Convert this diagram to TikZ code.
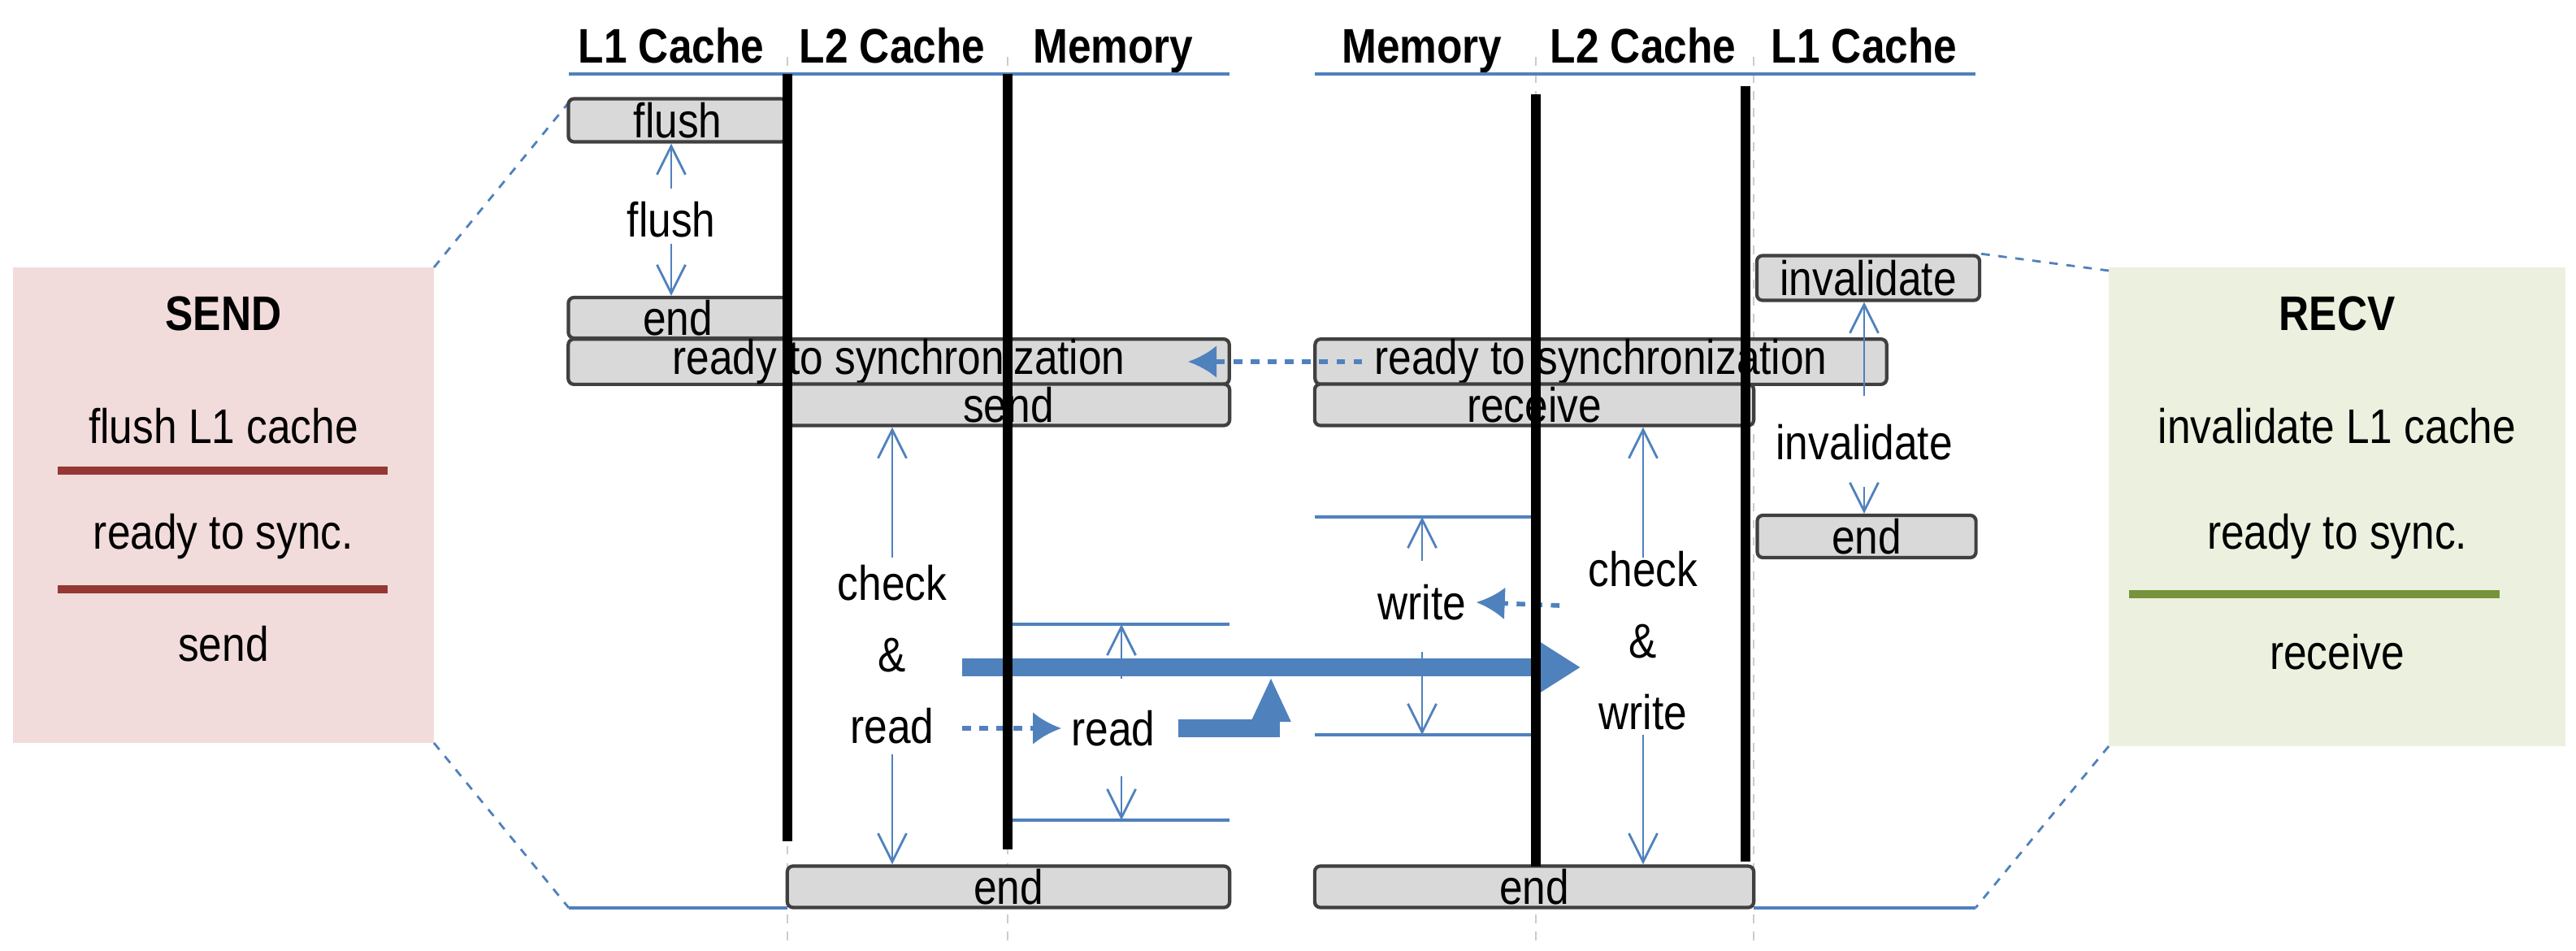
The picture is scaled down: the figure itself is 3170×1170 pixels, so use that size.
\documentclass[tikz,border=0pt]{standalone}
\usepackage{fontspec}
\setmainfont[FakeStretch=0.86]{Liberation Sans}
\usetikzlibrary{positioning, arrows.meta}
\definecolor{flow}{RGB}{79,129,189}
\definecolor{boxgray}{RGB}{217,217,217}
\definecolor{sendbg}{RGB}{242,220,219}
\definecolor{recvbg}{RGB}{235,241,222}
\definecolor{sendline}{RGB}{149,55,53}
\definecolor{recvline}{RGB}{119,147,60}
\tikzset{
  box/.style={draw=black!75, line width=1.2pt, fill=boxgray, rounded corners=2pt,
    inner sep=0pt, font=\fontsize{17}{20}\selectfont},
  lbl/.style={font=\fontsize{17}{21}\selectfont, align=center},
  head/.style={font=\bfseries\fontsize{17}{20}\selectfont, anchor=base},
  flowstep/.style={flow, line width=0.8pt, -{Straight Barb[length=3.5mm, width=3.5mm]}},
  hint/.style={flow, line width=1.6pt, dashed, -{Latex[length=3.5mm, width=4mm]}},
  rule/.style={flow, line width=1pt},
  wire/.style={black, line width=3.2pt},
  guide/.style={black!20, dashed, line width=0.6pt},
  link/.style={flow, dashed, line width=0.8pt}
}
\begin{document}
\begin{tikzpicture}[x=0.01cm, y=-0.01cm]
\useasboundingbox (0,0) rectangle (3170,1170);

% side panels
\fill[sendbg] (16,329) rectangle (534,914);
\fill[recvbg] (2595,329) rectangle (3157,918);
\node[lbl, font=\bfseries\fontsize{17}{20}\selectfont] (sendtitle) at (275,386) {SEND};
\node[lbl] (sendflush) at (275,524) {flush L1 cache};
\node[lbl] (sendready) at (275,660) {ready to sync.};
\node[lbl] (sendsend) at (275,792) {send};
\draw[sendline, line width=3pt] (71,579) -- (477,579);
\draw[sendline, line width=3pt] (71,725) -- (477,725);
\node[lbl, font=\bfseries\fontsize{17}{20}\selectfont] (recvtitle) at (2876,386) {RECV};
\node[lbl] (recvinv) at (2876,524) {invalidate L1 cache};
\node[lbl] (recvready) at (2876,660) {ready to sync.};
\node[lbl] (recvrecv) at (2876,802) {receive};
\draw[recvline, line width=3pt] (2620,731) -- (3076,731);

% zoom lines
\coordinate (sp1) at (534,329); \coordinate (sp2) at (534,914);
\coordinate (rp1) at (2595,333); \coordinate (rp2) at (2595,918);
\draw[link] (sp1) -- (700,126);
\draw[link] (sp2) -- (700,1117);
\draw[link] (rp1) -- (2436,312);
\draw[link] (rp2) -- (2431,1117);

% column guides
\foreach \gx in {969,1240,1890,2158}
  \draw[guide] (\gx,70) -- (\gx,1160);

% headers
\node[head] (hl1) at (826,78) {L1 Cache};
\node[head] (hl2) at (1098,78) {L2 Cache};
\node[head] (hm) at (1370,78) {Memory};
\node[head] (hrm) at (1750,78) {Memory};
\node[head] (hr2) at (2022,78) {L2 Cache};
\node[head] (hr1) at (2294,78) {L1 Cache};
\draw[rule] (700,91) -- (1513,91);
\draw[rule] (1618,91) -- (2431,91);
\draw[rule] (700,1117) -- (969,1117);
\draw[rule] (2158,1117) -- (2431,1117);

% boxes
\node[box, minimum width=2.69cm, minimum height=0.53cm] (flush) at (834,148) {flush};
\node[box, minimum width=2.69cm, minimum height=0.50cm] (sendend) at (834,391) {end};
\node[box, minimum width=8.13cm, minimum height=0.51cm] (readyL) at (1106,445) {ready to synchronization};
\node[box, minimum width=5.44cm, minimum height=0.51cm] (send) at (1241,498) {send};
\node[box, minimum width=7.03cm, minimum height=0.51cm] (readyR) at (1970,445) {ready to synchronization};
\node[box, minimum width=5.40cm, minimum height=0.51cm] (receive) at (1888,498) {receive};
\node[box, minimum width=2.74cm, minimum height=0.55cm] (inval) at (2299,342) {invalidate};
\node[box, minimum width=2.69cm, minimum height=0.52cm] (recvend) at (2297,660) {end};
\node[box, minimum width=5.44cm, minimum height=0.51cm] (endL) at (1241,1091) {end};
\node[box, minimum width=5.40cm, minimum height=0.51cm] (endR) at (1888,1091) {end};

% labels
\node[lbl] (flushlbl) at (826,270) {flush};
\node[lbl] (chkread) at (1098,805) {check\\[4pt]\&\\[4pt]read};
\node[lbl] (read) at (1370,896) {read};
\node[lbl] (write) at (1750,741) {write};
\node[lbl] (chkwrite) at (2022,788) {check\\[4pt]\&\\[4pt]write};
\node[lbl] (invlbl) at (2294,544) {invalidate};

% thin steps
\draw[flowstep] (826,232) -- (flush.south -| 826,0);
\draw[flowstep] (826,300) -- (sendend.north -| 826,0);
\draw[flowstep] (1098,686) -- (send.south -| 1098,0);
\draw[flowstep] (1098,928) -- (endL.north -| 1098,0);
\draw[flowstep] (2022,686) -- (receive.south -| 2022,0);
\draw[flowstep] (2022,904) -- (endR.north -| 2022,0);
\draw[flowstep] (2294,487) -- (inval.south -| 2294,0);
\draw[flowstep] (2294,599) -- (recvend.north -| 2294,0);

% read / write brackets
\draw[rule] (1240,768) -- (1513,768);
\draw[rule] (1240,1009) -- (1513,1009);
\draw[flowstep] (1380,835) -- (1380,768);
\draw[flowstep] (1380,955) -- (1380,1009);
\draw[rule] (1618,636) -- (1890,636);
\draw[rule] (1618,904) -- (1890,904);
\draw[flowstep] (1750,690) -- (1750,636);
\draw[flowstep] (1750,802) -- (1750,904);

% hints
\draw[hint] (readyR.west) ++(60,0) -- (1462,445);
\draw[hint] (1184,896) -- (read.west);
\draw[hint] (1919,745) -- (write.east);

% data path
\draw[flow, line width=6pt, -{Triangle[length=0.55cm, width=0.65cm]}] (1184,821) -- (1945,821);
\draw[flow, line width=6pt, -{Triangle[length=0.55cm, width=0.45cm]}] (1450,896) -| (1564,833);

% cache walls
\draw[wire] (969,91) -- (969,1035);
\draw[wire] (1240,91) -- (1240,1045);
\draw[wire] (1890,116) -- (1890,1066);
\draw[wire] (2148,106) -- (2148,1060);
\end{tikzpicture}
\end{document}
